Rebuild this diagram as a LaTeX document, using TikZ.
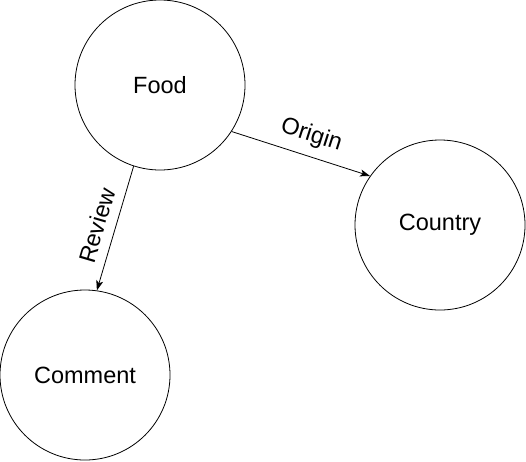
\documentclass[tikz,border=0pt]{standalone}
\usepackage{fontspec}
\setmainfont{Liberation Sans}
\usetikzlibrary{arrows.meta}

\begin{document}
\begin{tikzpicture}[x=1pt,y=-1pt,
        entity/.style={draw, circle, line width=0.8pt, minimum size=170pt, inner sep=0pt, font=\fontsize{23.5}{28}\selectfont},
        rel/.style={line width=0.8pt, -{Stealth[length=10pt,width=7pt,inset=2.5pt]}},
        rellabel/.style={font=\fontsize{23.5}{28}\selectfont, sloped}]
                \useasboundingbox (0,0) rectangle (526,461);
                \node[entity] (Food) at (160,85) {Food};
                \node[entity] (Country) at (440,225) {Country};
                \node[entity] (Comment) at (85,375) {Comment};
                \draw[rel] (Food.-33.7) -- node[rellabel, above=6pt, pos=0.53] {Origin} (Country.145);
                \draw[rel] (Food.-108.5) -- node[rellabel, above=6pt, pos=0.52] {Review} (Comment.82.8);
            \end{tikzpicture}
\end{document}
